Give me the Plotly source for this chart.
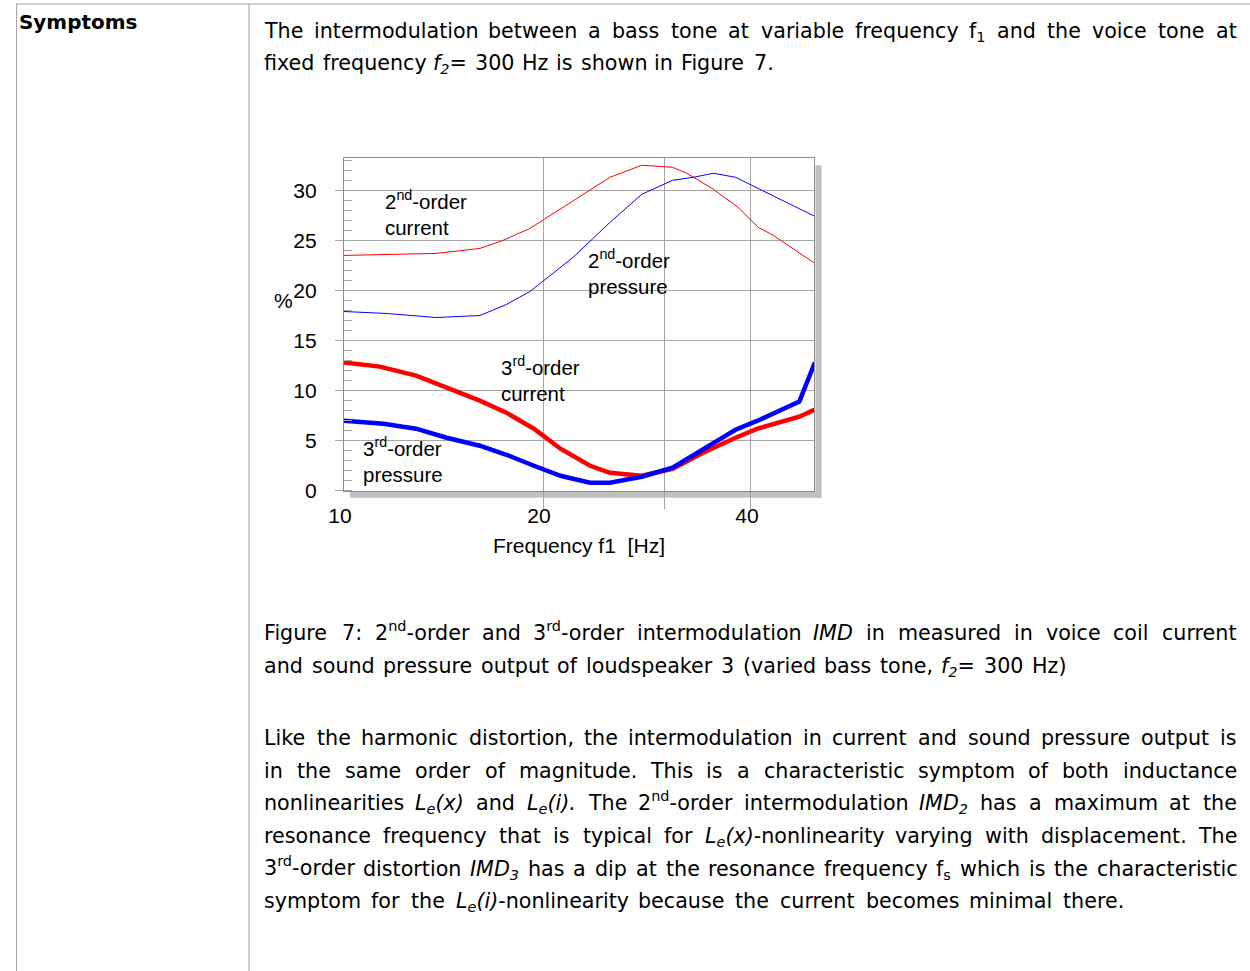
import re
import numpy as np
import plotly.graph_objects as go

# ---------------- data ----------------
f_imd2_current = [10.3, 14.0, 16.2, 17.5, 19.15, 21.9, 25.0, 27.8, 30.8, 32.3, 35.3, 38.3, 41.0, 43.1, 49.5]
imd2_current = [23.5, 23.7, 24.2, 25.0, 26.2, 28.8, 31.3, 32.5, 32.3, 31.7, 30.1, 28.3, 26.3, 25.5, 22.7]

f_imd2_pressure = [10.3, 11.9, 14.0, 16.2, 17.7, 19.15, 22.1, 25.0, 27.8, 30.8, 33.0, 35.3, 38.0, 41.2, 47.0, 49.5]
imd2_pressure = [17.9, 17.7, 17.3, 17.5, 18.6, 19.9, 23.3, 26.8, 29.6, 31.0, 31.3, 31.7, 31.3, 30.1, 28.1, 27.4]

f_imd3_current = [10.3, 11.6, 13.1, 14.5, 16.2, 17.7, 19.4, 21.2, 22.1, 23.4, 25.0, 27.8, 30.8, 34.1, 38.0, 40.9, 47.0, 49.5]
imd3_current = [12.8, 12.4, 11.5, 10.3, 9.0, 7.8, 6.2, 4.2, 3.5, 2.5, 1.8, 1.5, 2.2, 3.8, 5.3, 6.2, 7.4, 8.1]

f_imd3_pressure = [10.3, 11.75, 13.1, 14.5, 16.2, 17.7, 19.4, 21.2, 22.1, 23.4, 25.0, 27.8, 30.8, 34.1, 38.0, 40.9, 47.0, 49.5]
imd3_pressure = [7.0, 6.7, 6.2, 5.3, 4.5, 3.6, 2.5, 1.5, 1.2, 0.8, 0.8, 1.4, 2.3, 4.2, 6.1, 7.0, 8.9, 12.8]

x_tick_values = [10.3, 20, 40]
x_tick_labels = ["10", "20", "40"]
x_grid_values = [20, 30, 40]
y_tick_values = [0, 5, 10, 15, 20, 25, 30]
y_tick_labels = ["0", "5", "10", "15", "20", "25", "30"]

x_range = [10.3, 49.36]
y_range = [0, 33.2]

series_labels = ["2<sup>nd</sup>-order<br>current", "2<sup>nd</sup>-order<br>pressure",
                 "3<sup>rd</sup>-order<br>current", "3<sup>rd</sup>-order<br>pressure"]
label_f = [11.72, 23.1, 17.25, 10.9]
label_v = [27.7, 21.8, 11.2, 3.1]

# ---------------- page text ----------------
heading = "<b>Symptoms</b>"
intro_lines = [
    "The intermodulation between a bass tone at variable frequency f<sub>1</sub> and the voice tone at",
    "fixed frequency <i>f<sub>2</sub></i>= 300 Hz is shown in Figure 7.",
]
caption_lines = [
    "Figure 7:  2<sup>nd</sup>-order and 3<sup>rd</sup>-order intermodulation <i>IMD</i> in measured in voice coil current",
    "and sound pressure output of loudspeaker 3 (varied bass tone, <i>f<sub>2</sub></i>= 300 Hz)",
]
body_lines = [
    "Like the harmonic distortion, the intermodulation in current and sound pressure output is",
    "in the same order of magnitude. This is a characteristic symptom of both inductance",
    "nonlinearities <i>L<sub>e</sub>(x)</i> and <i>L<sub>e</sub>(i).</i> The 2<sup>nd</sup>-order intermodulation <i>IMD<sub>2</sub></i> has a maximum at the",
    "resonance frequency that is typical for <i>L<sub>e</sub>(x)</i>-nonlinearity varying with displacement. The",
    "3<sup>rd</sup>-order distortion <i>IMD<sub>3</sub></i> has a dip at the resonance frequency f<sub>s</sub> which is the characteristic",
    "symptom for the <i>L<sub>e</sub>(i)</i>-nonlinearity because the current becomes minimal there.",
]

# ---------------- geometry helpers ----------------
# The viewer renders the page with a 16 px gutter on the left and scales it to
# the remaining width; positions below are given in screen pixels and mapped back.
W, H = 1250, 984
S = 0.9872
OX = 16.0


def fx(xr):
    return (xr - OX) / S


def fy(yr):
    return yr / S


def pxr(xr):
    return fx(xr) / W


def pyr(yr):
    return 1 - fy(yr) / H


TEXT_FONT = "'DejaVu Sans', sans-serif"
CHART_FONT = "'Liberation Sans', Arial, sans-serif"
GRID = "#a6a6a6"
TEXT_SIZE_R = 20.4
HEAD_SIZE_R = 19.7
CHART_SIZE_R = 20.8
LABEL_SIZE_R = 20.2

# DejaVu Sans advance widths (font units of 2048)
DEJAVU = {
    " ": 651, ",": 651, ".": 651, "-": 739, "(": 799, ")": 799, ":": 690, "=": 1716,
    "0": 1303, "1": 1303, "2": 1303, "3": 1303, "4": 1303, "5": 1303, "6": 1303,
    "7": 1303, "8": 1303, "9": 1303,
    "A": 1401, "B": 1405, "C": 1430, "D": 1577, "E": 1294, "F": 1178, "G": 1587,
    "H": 1540, "I": 604, "J": 604, "K": 1343, "L": 1141, "M": 1767, "N": 1532,
    "O": 1612, "P": 1235, "Q": 1612, "R": 1423, "S": 1300, "T": 1251, "U": 1499,
    "V": 1401, "W": 2025, "X": 1403, "Y": 1251, "Z": 1403,
    "a": 1255, "b": 1300, "c": 1126, "d": 1300, "e": 1260, "f": 721, "g": 1300,
    "h": 1298, "i": 569, "j": 569, "k": 1186, "l": 569, "m": 1995, "n": 1298,
    "o": 1253, "p": 1300, "q": 1300, "r": 842, "s": 1067, "t": 803, "u": 1298,
    "v": 1212, "w": 1675, "x": 1212, "y": 1212, "z": 1075,
}
ASC, DESC = 0.928, 0.236


def text_width(s, size):
    w = 0.0
    scale = 1.0
    for tok in re.split(r"(<[^>]+>)", s):
        if tok.startswith("<"):
            name = tok.strip("</>").lower()
            if name in ("sub", "sup"):
                scale = 1.0 if tok.startswith("</") else 0.7
            continue
        for ch in tok:
            w += DEJAVU.get(ch, 1200) / 2048.0 * size * scale
    return w


def add_line(annotations, line, y_base, size_r, x_right, x_left=264.0):
    """Place the words of one line so that it spans x_left..x_right (screen px)."""
    words = line.split()
    widths = [text_width(w, size_r) for w in words]
    space = DEJAVU[" "] / 2048.0 * size_r
    target = x_right - x_left
    natural = sum(widths) + space * (len(words) - 1)
    if natural > target:
        k = target / natural
        size_r *= k
        widths = [w * k for w in widths]
    gap = (target - sum(widths)) / (len(words) - 1) if len(words) > 1 else 0
    x = x_left
    for w, wd in zip(words, widths):
        if "<sup>" in w and "<sub>" not in w:
            yanchor, y = "bottom", y_base + DESC * size_r
        else:
            yanchor, y = "top", y_base - ASC * size_r
        annotations.append(dict(x=pxr(x), y=pyr(y), xref="paper", yref="paper", text=w,
                                showarrow=False, xanchor="left", yanchor=yanchor,
                                borderpad=0, borderwidth=0,
                                font=dict(family=TEXT_FONT, size=size_r / S, color="black")))
        x += wd + gap


fig = go.Figure()

fig.add_trace(go.Scatter(x=f_imd2_current, y=imd2_current, mode="lines",
                         line=dict(color="#ff0000", width=1), showlegend=False))
fig.add_trace(go.Scatter(x=f_imd2_pressure, y=imd2_pressure, mode="lines",
                         line=dict(color="#0000ff", width=1), showlegend=False))
fig.add_trace(go.Scatter(x=f_imd3_current, y=imd3_current, mode="lines",
                         line=dict(color="#ff0000", width=4.5), showlegend=False))
fig.add_trace(go.Scatter(x=f_imd3_pressure, y=imd3_pressure, mode="lines",
                         line=dict(color="#0000ff", width=4.5), showlegend=False))

CHART_SIZE = CHART_SIZE_R / S
annotations = []
for txt, f, v in zip(series_labels, label_f, label_v):
    annotations.append(dict(x=np.log10(f), y=v, xref="x", yref="y", text=txt,
                            showarrow=False, xanchor="left", yanchor="middle", align="left",
                            font=dict(family=CHART_FONT, size=LABEL_SIZE_R / S, color="black")))

# y axis unit
annotations.append(dict(x=pxr(283), y=pyr(300), xref="paper", yref="paper", text="%",
                        showarrow=False, xanchor="center", yanchor="middle",
                        font=dict(family=CHART_FONT, size=CHART_SIZE, color="black")))

# heading in the left column
annotations.append(dict(x=pxr(19), y=pyr(28.3 - ASC * HEAD_SIZE_R), xref="paper", yref="paper",
                        text=heading, showarrow=False, xanchor="left", yanchor="top",
                        borderpad=0, borderwidth=0,
                        font=dict(family=TEXT_FONT, size=HEAD_SIZE_R / S, color="black")))

# paragraphs: (lines, first baseline, right end of each line) in screen pixels
LINE_STEP = 32.6
text_blocks = [
    (intro_lines, 37.7, [1236, 773]),
    (caption_lines, 639.3, [1236, 1066]),
    (body_lines, 743.8, [1236, 1236, 1236, 1236, 1236, 1124]),
]
for lines, base0, rights in text_blocks:
    for i, (line, xr) in enumerate(zip(lines, rights)):
        add_line(annotations, line, base0 + i * LINE_STEP, TEXT_SIZE_R, x_right=xr)

shapes = [
    # table borders
    dict(type="line", xref="paper", yref="paper", x0=0, x1=1, y0=pyr(4), y1=pyr(4),
         line=dict(color="#a0a0a0", width=1)),
    dict(type="line", xref="paper", yref="paper", x0=0.0005, x1=0.0005, y0=pyr(4), y1=0,
         line=dict(color="#a0a0a0", width=1)),
    dict(type="line", xref="paper", yref="paper", x0=pxr(249), x1=pxr(249), y0=pyr(4), y1=0,
         line=dict(color="#a0a0a0", width=1)),
    # chart drop shadow (right and bottom)
    dict(type="rect", xref="paper", yref="paper", x0=pxr(815.5), x1=pxr(821.5), y0=pyr(497), y1=pyr(165),
         fillcolor="#c0c0c0", line=dict(width=0), layer="below"),
    dict(type="rect", xref="paper", yref="paper", x0=pxr(350), x1=pxr(821.5), y0=pyr(497), y1=pyr(491),
         fillcolor="#c0c0c0", line=dict(width=0), layer="below"),
]

fig.update_layout(
    width=W, height=H,
    margin=dict(l=0, r=0, t=0, b=0),
    paper_bgcolor="white", plot_bgcolor="white",
    showlegend=False,
    annotations=annotations,
    shapes=shapes,
    xaxis=dict(
        type="log",
        domain=[pxr(344), pxr(814)],
        range=[np.log10(x_range[0]), np.log10(x_range[1])],
        tickvals=x_tick_values, ticktext=x_tick_labels,
        ticks="", showgrid=False,
        ticklabelstandoff=6, ticklabelshift=-4,
        tickfont=dict(family=CHART_FONT, size=CHART_SIZE, color="black"),
        minor=dict(tickvals=x_grid_values, showgrid=True, gridcolor=GRID, gridwidth=1,
                   ticks="outside", ticklen=17, tickcolor=GRID, tickwidth=1),
        showline=True, linecolor="#8c8c8c", linewidth=1, mirror=True,
        zeroline=False,
        title=dict(text="Frequency f1\u00a0\u00a0[Hz]", standoff=12,
                   font=dict(family=CHART_FONT, size=CHART_SIZE, color="black")),
    ),
    yaxis=dict(
        domain=[pyr(490), pyr(158)],
        range=y_range,
        tickvals=y_tick_values, ticktext=y_tick_labels,
        ticks="outside", ticklen=8, tickcolor=GRID, tickwidth=1,
        ticklabelstandoff=14,
        showgrid=True, gridcolor=GRID, gridwidth=1,
        tickfont=dict(family=CHART_FONT, size=CHART_SIZE, color="black"),
        minor=dict(dtick=1, ticks="inside", ticklen=8, tickcolor=GRID, tickwidth=1, showgrid=False),
        showline=True, linecolor="#8c8c8c", linewidth=1, mirror=True,
        zeroline=False,
    ),
)

fig.write_html(
    "out.html",
    config={"displayModeBar": False},
    post_script=("document.documentElement.style.margin='0';document.documentElement.style.padding='0';"
                 "document.documentElement.style.overflow='hidden';"
                 "document.body.style.margin='0';document.body.style.padding='0';"
                 "document.body.style.overflow='hidden';"),
)
